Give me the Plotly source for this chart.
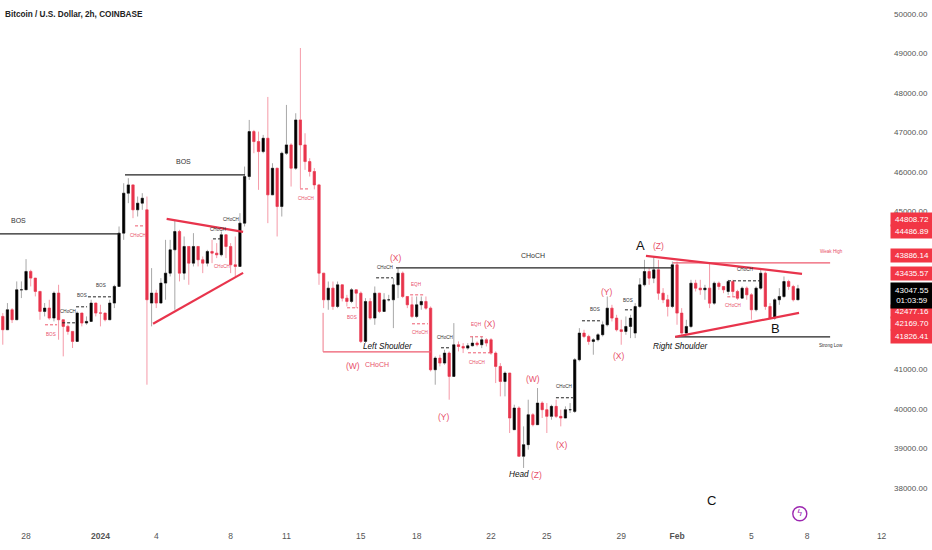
import pandas as pd
import plotly.graph_objects as go

# ---- candles (6-hourly readings of the chart) ----
opens = [42345,42007,42513,42260,43019,43019,43483,43314,42977,42471,42555,42302,42935,42260,42092,41965,41712,42429,42176,42218,
42682,42429,42429,42260,42682,43103,44452,45464,45674,45042,45211,45042,42682,42935,42682,43187,43440,44030,44494,43440,
44115,43693,44115,43778,43693,43988,43946,43904,44410,44115,43651,43609,44705,45885,47023,46770,46517,46855,45421,46096,
45126,46475,46686,46096,47318,46686,46264,46012,45674,43439,42765,43060,42596,43144,42807,42723,43018,42933,41711,42723,
42301,42933,42470,42765,42765,43144,43439,42849,42638,42343,42638,42723,42554,40994,41289,41163,41416,40826,41627,41584,
41542,41601,41669,41627,41753,41753,41416,41079,40699,40910,39477,40025,38803,39098,39856,39603,40151,39983,39814,40067,
39814,39772,39983,39940,41247,41922,41837,41711,41753,41880,42132,42554,42301,42006,41964,42090,41922,42596,43144,43481,
43313,43523,42933,42765,42596,43650,42428,41922,42090,43186,43060,43018,43060,42680,43186,43102,42976,43228,42976,42807,
43060,42891,42512,43060,43439,42596,42301,42765,42849,43228,43102,42765]
closes = [42007,42513,42260,43019,43019,43483,43314,42977,42471,42555,42302,42935,42260,42092,41965,41712,42429,42176,42218,42682,
42429,42429,42260,42682,43103,44452,45464,45674,45042,45211,45337,42766,42935,42682,43187,43440,44030,44494,43440,44115,
43693,44115,43778,43693,43988,43946,43904,44410,44115,43651,43609,44705,45885,47023,46770,46517,46855,45421,46096,45126,
46475,46686,46096,47318,46686,46264,46012,45674,43439,42765,43060,42596,43144,42807,42723,43018,42933,41711,42723,42301,
42933,42470,42765,42765,43144,43439,42849,42638,42343,42638,42723,42554,40994,41289,41163,41416,40826,41627,41584,41542,
41601,41669,41627,41753,41669,41416,41079,40699,40910,39772,40025,38803,39098,39856,39603,40151,39983,39814,40067,39814,
39772,39983,39983,41247,41922,41837,41711,41753,41880,42132,42554,42301,42006,41964,42090,42301,42596,43144,43481,43313,
43523,42933,42765,42596,43650,42428,41922,42090,43186,43060,43018,43060,42680,43186,43102,43018,43228,42976,42807,43060,
42891,42512,43060,43439,42596,42301,42765,42849,43228,43102,42765,43047.55]
highs = [42429,42682,42555,43230,43230,43794,43525,43230,42766,42682,42766,42977,43145,42176,42134,41965,42471,42429,42344,42766,
42682,42640,42429,42766,43145,44621,45716,45843,45379,45379,45464,45379,43567,43019,43314,44283,44283,44789,44536,44368,
44115,44452,44115,43862,44030,44283,44199,44494,44283,44199,44368,44958,46138,47318,47065,47023,46939,47900,46222,45590,
46517,47698,46728,47487,49139,46981,46349,46100,45700,43439,43228,43228,43228,42975,42891,43060,42975,42975,42807,42807,
43102,42891,42933,42891,43313,43566,43481,42849,42849,42849,42849,42849,42596,41332,41374,41500,41458,42175,41711,41669,
41669,41837,41711,41837,41795,41795,41458,41163,40952,40910,40109,40067,39561,40236,39898,40531,40194,40151,40109,40236,
39983,40067,40151,41289,42048,42006,41880,41795,41922,42217,42849,42638,42385,42259,42343,42385,42680,43313,43776,43566,
43861,43776,43060,42891,43734,43734,42554,42259,43271,43271,43271,43144,43692,43228,43228,43102,43271,43271,43018,43102,
43102,42933,43102,43523,43481,42680,42807,43060,43355,43271,43144,43144]
lows = [41628,42007,42176,42682,42808,43272,43103,42850,42260,42344,42260,42218,41754,41333,41881,41544,41923,42092,42134,42429,
42344,42092,42218,42429,42555,43103,44283,45211,44831,44873,45042,40616,42092,42555,42766,42766,43356,42513,43230,43272,
43145,43609,43609,43440,43609,43693,43820,43862,43820,43440,43356,43609,44621,45801,46475,45548,46475,44705,45464,44368,
44873,46433,45632,46054,45590,46054,45885,45560,43144,42554,42512,42512,42554,42723,42596,42680,42554,41669,41669,42259,
42132,42427,42512,42723,42048,42807,42807,42554,42301,42301,42512,42512,40952,40615,41079,41121,40236,40826,41458,41416,
41500,41584,41584,41542,41584,41374,40657,40320,40320,39393,39477,38803,38508,38971,39561,39646,39772,39393,39730,39772,
39561,39772,39899,39899,41205,41795,41627,41374,41711,41837,42090,42217,41964,41627,41880,41795,41795,42554,43102,43144,
43186,42765,42680,42343,42554,42133,41880,41880,42048,42976,42891,42765,42554,42638,43018,42933,42891,42849,42765,42807,
42765,42259,42470,43018,42512,42276,42259,42638,42807,43018,42723,42849]

price_ticks = [50000,49000,48000,47000,46000,45000,44000,43000,42000,41000,40000,39000,38000]
date_tick_days = [0,4,7,11,14,18,21,25,28,32,35,39,42,46]
date_tick_text = ["28","<b>2024</b>","4","8","11","15","18","22","25","29","<b>Feb</b>","5","8","12"]

# ---- drawn levels: start day, end day (days after 28 Dec), price ----
solid_black = [(-1.4,5.0,44434),(5.32,11.77,45926),(19.89,34.73,43574),(34.9,43.23,41828)]
solid_red = [(15.97,21.77,41448),(34.78,43.23,43700)]
dash_black = [(3.33,4.68,42840),(2.69,3.28,42587),(1.94,2.63,42182),(10.05,10.54,44307),(18.82,19.73,43321),
              (22.31,22.8,41550),(28.49,29.41,40285),(29.89,30.97,42233),(32.2,32.58,42511),(37.74,39.57,43245)]
dash_red = [(1.02,1.67,42132),(5.86,6.4,44636),(14.73,15.27,45572),(17.26,17.85,42562),(20.65,21.4,42890),
            (20.75,21.61,42157),(23.87,24.68,41828),(23.76,25.05,41423),(37.7,38.3,42840)]
# thick trend lines: day, price, day, price
trend_lines = [(7.56,44812,11.67,44484),(6.83,42157,11.67,43447),(33.33,43877,41.72,43422),(34.9,41828,41.56,42434)]

# ---- texts: label, day, price ----
small_black = [("BOS",4.03,43118),("BOS",3.01,42865),("BOS",32.37,42739),("BOS",30.59,42511),("CHoCH",2.26,42460),
               ("CHoCH",11.02,44788),("CHoCH",10.32,44535),("CHoCH",19.3,43574),("CHoCH",22.53,41803),("CHoCH",28.92,40563),("CHoCH",38.66,43523)]
mid_black = [("BOS",-0.43,44763),("BOS",8.49,46255),("CHoCH",27.26,43877)]
small_red = [("BOS",1.34,41879),("BOS",17.53,42309),("CHoCH",6.02,44383),("CHoCH",10.54,43599),("CHoCH",15.05,45319),
             ("CHoCH",21.18,41929),("CHoCH",24.25,41170),("CHoCH",38.01,42612),("EQH",20.97,43144),("EQH",24.19,42132),("Weak High",43.28,43978)]
mid_red = [("CHoCH",18.87,41120)]
small_dark = [("Strong Low",43.28,41600)]
waves = [("(X)",19.89,43827),("(W)",17.58,41094),("(Y)",22.47,39804),("(X)",24.95,42157),("(W)",27.26,40765),("(X)",28.82,39096),
         ("(Z)",27.47,38336),("(Y)",31.24,42966),("(X)",31.88,41347),("(Z)",34.03,44130)]
italics = [("Left Shoulder",19.46,41575),("Head",26.5,38336),("Right Shoulder",35.16,41575)]
letters = [("A",33.06,44130),("B",40.27,42030),("C",36.83,37679)]

red_price_labels = [44808.72,44486.89,43886.14,43435.57,42477.16,42169.70,41826.41]
last_price = 43047.55
countdown = "01:03:59"

RED = "#e8344c"
SANS = "Liberation Sans, Arial, sans-serif"
origin = pd.Timestamp("2023-12-28")
day = lambda d: origin + pd.Timedelta(days=d)
times = pd.date_range("2023-12-26 18:00", periods=len(closes), freq="6h")

fig = go.Figure()

# wicks (pale) and bodies (saturated)
fig.add_trace(go.Candlestick(x=times, open=opens, high=highs, low=lows, close=closes,
    increasing=dict(line=dict(color="#a8a8a8", width=1), fillcolor="#a8a8a8"),
    decreasing=dict(line=dict(color="#f59aa8", width=1), fillcolor="#f59aa8"), showlegend=False))
body_high = [max(o, c) for o, c in zip(opens, closes)]
body_low = [min(o, c) for o, c in zip(opens, closes)]
fig.add_trace(go.Candlestick(x=times, open=opens, high=body_high, low=body_low, close=closes,
    increasing=dict(line=dict(color="#000000", width=0.4), fillcolor="#000000"),
    decreasing=dict(line=dict(color=RED, width=0.4), fillcolor=RED), showlegend=False))

def add_levels(rows, color, width, dash):
    for d0, d1, p in rows:
        fig.add_trace(go.Scatter(x=[day(d0), day(d1)], y=[p, p], mode="lines", hoverinfo="skip", showlegend=False,
                                 line=dict(color=color, width=width, dash=dash)))

add_levels(solid_black, "#222222", 1.2, "solid")
add_levels(solid_red, "#ee5a6e", 1.2, "solid")
add_levels(dash_black, "#222222", 1, "3px,2px")
add_levels(dash_red, "#ee5a6e", 1, "3px,2px")
fig.add_trace(go.Scatter(x=[day(15.97), day(15.97)], y=[42435, 41448], mode="lines", hoverinfo="skip", showlegend=False,
                         line=dict(color="#ee7a8a", width=1)))
for d0, p0, d1, p1 in trend_lines:
    fig.add_trace(go.Scatter(x=[day(d0), day(d1)], y=[p0, p1], mode="lines", hoverinfo="skip", showlegend=False,
                             line=dict(color=RED, width=2.2)))

def add_texts(rows, color, size, italic=False, bold=False):
    for t, d, p in rows:
        label = f"<i>{t}</i>" if italic else t
        label = f"<b>{label}</b>" if bold else label
        fig.add_annotation(x=day(d), y=p, text=label, showarrow=False, xanchor="center", yanchor="middle",
                           font=dict(family=SANS, size=size, color=color))

add_texts(small_black, "#333333", 4.6)
add_texts(mid_black, "#333333", 7)
add_texts(small_red, "#e8506a", 4.6)
add_texts(mid_red, "#e8506a", 7)
add_texts(small_dark, "#333333", 4.6)
add_texts(waves, "#e8506a", 8.5)
add_texts(italics, "#111111", 8.2, italic=True)
add_texts(letters, "#111111", 13)

# alert icon
fig.add_trace(go.Scatter(x=[day(41.6)], y=[37350], mode="markers+text", text=["ϟ"], textposition="middle center",
    textfont=dict(family="DejaVu Sans", size=9, color="#9c27b0"), hoverinfo="skip", showlegend=False,
    marker=dict(symbol="circle-open", size=14, color="#9c27b0", line=dict(width=1.4, color="#9c27b0"))))

# price tags
for p in red_price_labels:
    fig.add_annotation(xref="paper", x=1, y=p, text=f"{p:.2f}", showarrow=False, xanchor="left", yanchor="middle",
                       width=42, height=13, bgcolor="#f23645", borderpad=0,
                       font=dict(family=SANS, size=8, color="#ffffff"))
fig.add_annotation(xref="paper", x=1, y=last_price, yshift=-7, text=f"{last_price:.2f}<br>{countdown}", showarrow=False,
                   xanchor="left", yanchor="middle", width=42, height=25, bgcolor="#000000", borderpad=0,
                   font=dict(family=SANS, size=8, color="#ffffff"))

fig.add_annotation(xref="paper", yref="paper", x=0, y=1, xshift=3, yshift=-8, xanchor="left", yanchor="top", showarrow=False,
                   text="<b>Bitcoin / U.S. Dollar, 2h, COINBASE</b>",
                   font=dict(family=SANS, size=8.2, color="#222222"))

fig.update_layout(width=932, height=550, margin=dict(l=0, r=42, t=0, b=28), paper_bgcolor="#ffffff", plot_bgcolor="#ffffff",
                  showlegend=False, hovermode=False,
                  xaxis=dict(type="date", range=[day(-1.4), day(46.45)], rangeslider=dict(visible=False), showgrid=False,
                             zeroline=False, showline=False, ticks="", tickmode="array", ticklabelstandoff=7,
                             tickvals=[day(d) for d in date_tick_days], ticktext=date_tick_text,
                             tickfont=dict(family=SANS, size=8.5, color="#555555")),
                  yaxis=dict(side="right", range=[37140, 50354], showgrid=False, zeroline=False, showline=False, ticks="",
                             tickmode="array", ticklabelstandoff=3, tickvals=price_ticks, ticktext=[f"{v:.2f}" for v in price_ticks],
                             tickfont=dict(family=SANS, size=8, color="#555555")))

fig.write_html("out.html", config=dict(displayModeBar=False), post_script="document.body.style.margin='0';")
